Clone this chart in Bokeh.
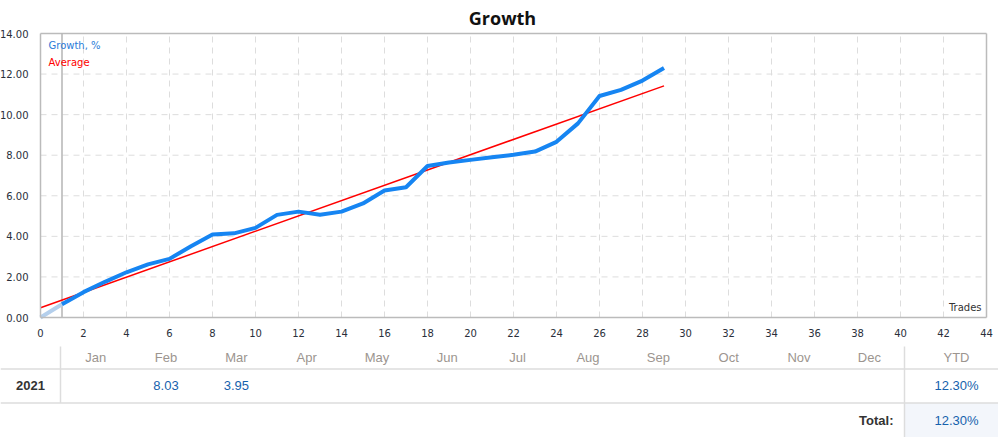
from bokeh.plotting import figure
from bokeh.models import Range1d, FixedTicker, PrintfTickFormatter, LinearAxis
from bokeh.core.properties import value
from bokeh.embed import file_html
from bokeh.resources import INLINE

# ---------------- data ----------------
trades = list(range(0, 30))
growth = [0.0, 0.65, 1.25, 1.76, 2.23, 2.62, 2.89, 3.51, 4.09, 4.15,
          4.42, 5.06, 5.22, 5.07, 5.22, 5.62, 6.26, 6.42, 7.47, 7.64,
          7.77, 7.90, 8.02, 8.18, 8.66, 9.57, 10.92, 11.22, 11.68, 12.30]
avg_x = [0, 29]
avg_y = [0.48, 11.42]
x_ticks = list(range(0, 46, 2))
y_ticks = list(range(0, 16, 2))
x_min, x_max = 0, 44
y_min, y_max = 0, 14

months = ["Jan", "Feb", "Mar", "Apr", "May", "Jun",
          "Jul", "Aug", "Sep", "Oct", "Nov", "Dec"]
year = "2021"
month_values = ["", "8.03", "3.95", "", "", "", "", "", "", "", "", ""]
ytd_label = "YTD"
ytd_value = "12.30%"
total_label = "Total:"
total_value = "12.30%"

TICK_FONT = "DejaVu Sans"
TABLE_FONT = "Liberation Sans"

# ------------- page geometry (pixels of the page) -------------
FRAME_L, FRAME_R, FRAME_T, FRAME_B = 40, 986, 33, 317
PX_X = (FRAME_R - FRAME_L) / (x_max - x_min)
PX_Y = (FRAME_B - FRAME_T) / (y_max - y_min)
PAGE_L, PAGE_T, W, H = 0, 0, 998, 437


def dx(xp):
    return x_min + (xp - FRAME_L) / PX_X


def dy(yp):
    return y_min + (FRAME_B - yp) / PX_Y


p = figure(width=W, height=H,
           x_range=Range1d(dx(PAGE_L), dx(PAGE_L + W)),
           y_range=Range1d(dy(PAGE_T + H), dy(PAGE_T)),
           output_backend="svg", toolbar_location=None, min_border=0,
           x_axis_location=None, y_axis_location=None)
p.background_fill_color = "white"
p.border_fill_color = "white"
p.outline_line_color = None
p.grid.visible = False

# axes drawn at the chart's origin
xa = LinearAxis(fixed_location=y_min, bounds=(x_min, x_max), ticker=FixedTicker(ticks=x_ticks))
ya = LinearAxis(fixed_location=x_min, bounds=(y_min, y_max), ticker=FixedTicker(ticks=y_ticks),
                formatter=PrintfTickFormatter(format="%.2f"))
for ax in (xa, ya):
    ax.axis_line_color = "#bbbbbb"
    ax.axis_line_width = 1.5
    ax.major_tick_line_color = None
    ax.minor_tick_line_color = None
    ax.major_label_text_font = TICK_FONT
    ax.major_label_text_font_size = "10px"
    ax.major_label_text_color = "#2a2f3a"
ya.major_label_standoff = 6
xa.major_label_standoff = 5
p.add_layout(xa, "below")
p.add_layout(ya, "left")

# dashed grid inside the chart box
gx = [t for t in x_ticks if x_min < t < x_max]
gy = [t for t in y_ticks if y_min < t < y_max]
p.segment(x0=gx, y0=[y_min] * len(gx), x1=gx, y1=[y_max] * len(gx),
          line_color="#dddddd", line_dash="6 5", line_width=1)
p.segment(x0=[x_min] * len(gy), y0=gy, x1=[x_max] * len(gy), y1=gy,
          line_color="#dddddd", line_dash="6 5", line_width=1)
# top and right border of the chart box
p.segment(x0=[x_min, x_max], y0=[y_max, y_min], x1=[x_max, x_max], y1=[y_max, y_max],
          line_color="#bbbbbb", line_width=1.5)
# start marker line at trade 1
p.segment(x0=[1], y0=[y_min], x1=[1], y1=[y_max], line_color="#b5b5b5", line_width=1.5)

p.line(avg_x, avg_y, line_color="#ff0000", line_width=1.5)
p.line(trades[:2], growth[:2], line_color="#b4cfec", line_width=4)
p.line(trades[1:], growth[1:], line_color="#1685f2", line_width=4, line_join="round")

# title, legend and axis name
p.text(x=[dx(502)], y=[dy(17)], text=["Growth"], text_align="center", text_baseline="middle",
       text_font=value("Open Sans"), text_font_style="bold", text_font_size="18px",
       text_color="#111111")
p.text(x=[dx(48), dx(48)], y=[dy(45), dy(62)], text=["Growth, %", "Average"],
       text_baseline="middle", text_font=value(TICK_FONT), text_font_size="10px",
       text_color=["#2b7bd8", "#ff0000"])
p.text(x=[dx(981)], y=[dy(307)], text=["Trades"], text_align="right", text_baseline="middle",
       text_font=value(TICK_FONT), text_font_size="10px", text_color="#333333")

# ---------------- table ----------------
first_w = 60
ytd_left = 904
month_w = (ytd_left - first_w) / 12
ytd_center = 956
header_y, row_y, total_y = 357, 385, 420
line1, line2, tab_top, tab_bot = 368.5, 402.5, 346, 440

p.quad(left=[dx(ytd_left)], right=[dx(1000)], top=[dy(line2)], bottom=[dy(tab_bot)],
       fill_color="#f3f6fb", line_color=None)
p.segment(x0=[dx(0), dx(0)], y0=[dy(line1), dy(line2)], x1=[dx(1000), dx(1000)],
          y1=[dy(line1), dy(line2)], line_color="#dddddd", line_width=1.5)
p.segment(x0=[dx(first_w), dx(ytd_left)], y0=[dy(tab_top), dy(tab_top)],
          x1=[dx(first_w), dx(ytd_left)], y1=[dy(line2), dy(tab_bot)],
          line_color="#dddddd", line_width=1.5)

centers = [dx(first_w + month_w * (i + 0.5)) for i in range(12)] + [dx(ytd_center)]
p.text(x=centers, y=[dy(header_y)] * 13, text=months + [ytd_label],
       text_font=value(TABLE_FONT), text_font_size="13px", text_color="#9c958f",
       text_align="center", text_baseline="middle")
p.text(x=[dx(first_w / 2)], y=[dy(row_y)], text=[year], text_font=value(TABLE_FONT),
       text_font_style="bold", text_font_size="13px", text_color="#333333",
       text_align="center", text_baseline="middle")
p.text(x=centers, y=[dy(row_y)] * 13, text=month_values + [ytd_value],
       text_font=value(TABLE_FONT), text_font_size="13px", text_color="#1662ad",
       text_align="center", text_baseline="middle")
p.text(x=[dx(ytd_left - 11)], y=[dy(total_y)], text=[total_label], text_font=value(TABLE_FONT),
       text_font_style="bold", text_font_size="13px", text_color="#333333",
       text_align="right", text_baseline="middle")
p.text(x=[dx(ytd_center)], y=[dy(total_y)], text=[total_value], text_font=value(TABLE_FONT),
       text_font_size="13px", text_color="#1662ad", text_align="center", text_baseline="middle")

open("out.html", "w").write(file_html(p, INLINE))
